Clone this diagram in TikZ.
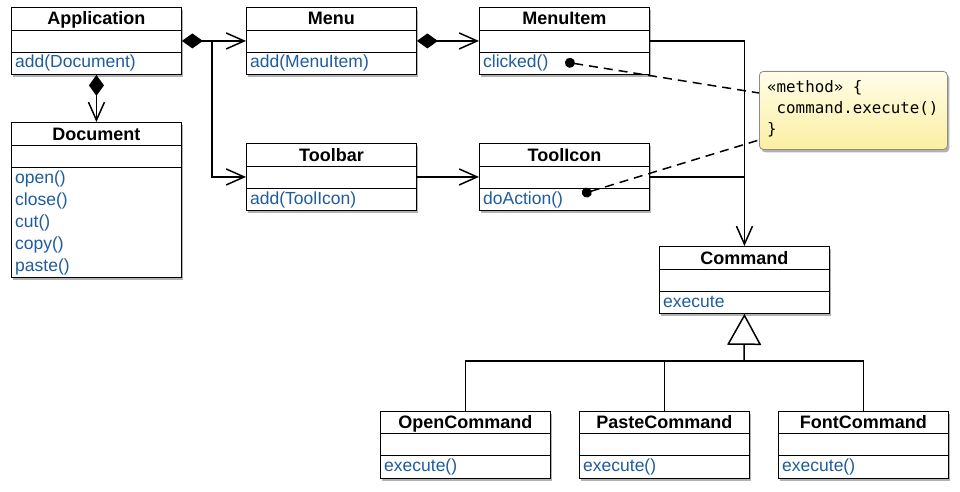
\documentclass[tikz,border=0pt]{standalone}
\usepackage{fontspec}
\setmainfont{Liberation Sans}
\newfontfamily\notefont{DejaVu Sans Mono}
\usetikzlibrary{arrows.meta,shadows,calc}
\definecolor{opblue}{HTML}{1F5C9E}
\definecolor{notetop}{HTML}{FFFDE8}
\definecolor{notebot}{HTML}{FCEFA2}
\tikzset{
  classbox/.style={draw=black, line width=0.9pt, fill=white, inner sep=0pt,
    drop shadow={shadow xshift=2pt, shadow yshift=-3pt, opacity=0.3, fill=black}},
  titletext/.style={font=\fontsize{18}{20}\selectfont\bfseries, inner sep=0pt, anchor=base},
  optext/.style={font=\fontsize{17.5}{22}\selectfont, text=opblue, inner sep=0pt, anchor=base west, align=left},
  rowline/.style={line width=0.9pt},
  conn/.style={line width=1.5pt},
  comp/.style={conn, {Diamond[length=21pt,width=15pt]}-{Straight Barb[length=18pt,width=16pt]}},
  assoc/.style={conn, -{Straight Barb[length=18pt,width=16pt]}},
  gen/.style={conn, -{Triangle[length=31pt,width=34pt,fill=white]}},
  dashline/.style={line width=1.5pt, dash pattern=on 9pt off 6pt, {Circle[length=10pt]}-},
  notebox/.style={draw=black!45, line width=0.8pt, rounded corners=4pt, top color=notetop, bottom color=notebot,
    drop shadow={shadow xshift=2pt, shadow yshift=-3pt, opacity=0.3, fill=black}},
  notetext/.style={font=\notefont\fontsize{15.8}{21}\selectfont, inner sep=0pt, align=left, anchor=base west}
}
% #1 name, #2 left, #3 top, #4 width, #5 height, #6 title, #7 operations, #8 baseline offset of last operation line
\newcommand\umlclass[8]{%
  \node[classbox, minimum width=#4pt, minimum height=#5pt, anchor=north west] (#1) at (#2,#3) {};
  \draw[rowline] ($(#1.north west)+(0,23)$) -- ($(#1.north east)+(0,23)$);
  \draw[rowline] ($(#1.north west)+(0,45)$) -- ($(#1.north east)+(0,45)$);
  \node[titletext] (#1-title) at ($(#1.north)+(0,18)$) {#6};
  \node[optext] (#1-ops) at ($(#1.north west)+(4,#8)$) {#7};
}
\begin{document}
\begin{tikzpicture}[x=1pt,y=-1pt]
\useasboundingbox (0,0) rectangle (960,492);

\umlclass{app}{11}{7}{170}{67}{Application}{add(Document)}{61}
\umlclass{doc}{11}{122}{170}{155}{Document}{open()\\close()\\cut()\\copy()\\paste()}{149}
\umlclass{menu}{246}{7}{170}{67}{Menu}{add(MenuItem)}{61}
\umlclass{item}{479}{7}{170}{67}{MenuItem}{clicked()}{61}
\umlclass{toolbar}{246}{143}{170}{67}{Toolbar}{add(ToolIcon)}{61}
\umlclass{icon}{479}{143}{170}{67}{ToolIcon}{doAction()}{61}
\umlclass{cmd}{659}{246}{170}{67}{Command}{execute}{61}
\umlclass{open}{380}{410.5}{170}{67}{OpenCommand}{execute()}{61}
\umlclass{paste}{579}{410.5}{170}{67}{PasteCommand}{execute()}{61}
\umlclass{font}{778}{410.5}{170}{67}{FontCommand}{execute()}{61}

% compositions and associations
\draw[comp] (app.east) -- (menu.west);
\coordinate (split) at (212,40.5);
\draw[assoc] (split) |- (toolbar.west);
\draw[comp] (app.south) -- (doc.north);
\draw[comp] (menu.east) -- (item.west);
\draw[assoc] (toolbar.east) -- (icon.west);
\draw[assoc] (item.east) -| (cmd.north);
\draw[conn] (icon.east) -- (icon.east -| cmd.north);

% generalization
\coordinate (bus) at (744,361);
\draw[gen] (bus) -- (cmd.south);
\draw[conn] (open.north) |- (bus) -| (font.north);
\draw[conn] (paste.north) -- (paste.north |- bus);

% note
\coordinate (clickdot) at (565,62);
\coordinate (actiondot) at (582,194);
\node[notebox, minimum width=188pt, minimum height=78pt, anchor=north west] (note) at (759,71) {};
\draw[dashline] (clickdot) -- ($(note.north west)+(0,22)$);
\draw[dashline] (actiondot) -- ($(note.north west)+(0,69)$);
\node[notetext] (notetxt) at (767,135) {«method» \{\\\hphantom{x}command.execute()\\\}};
\end{tikzpicture}
\end{document}
